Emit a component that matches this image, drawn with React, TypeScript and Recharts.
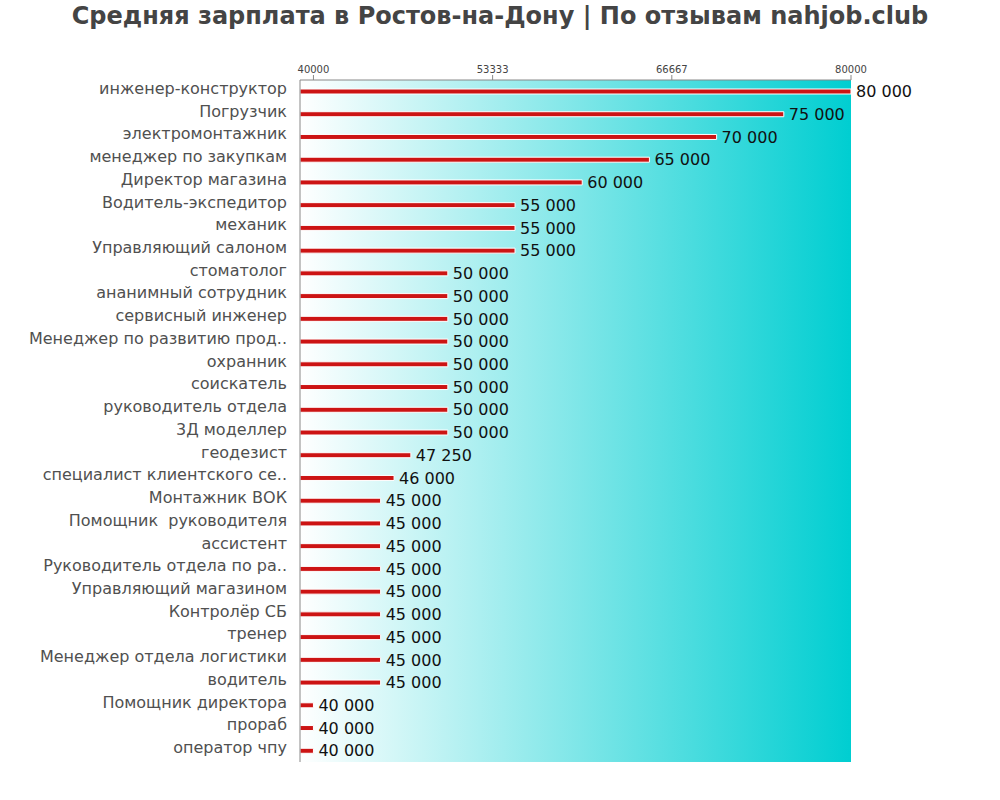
import React from 'react';
import { BarChart, Bar, XAxis, YAxis, CartesianGrid, LabelList } from 'recharts';

const jobs = [
  'инженер-конструктор',
  'Погрузчик',
  'электромонтажник',
  'менеджер по закупкам',
  'Директор магазина',
  'Водитель-экспедитор',
  'механик',
  'Управляющий салоном',
  'стоматолог',
  'ананимный сотрудник',
  'сервисный инженер',
  'Менеджер по развитию прод..',
  'охранник',
  'соискатель',
  'руководитель отдела',
  '3Д моделлер',
  'геодезист',
  'специалист клиентского се..',
  'Монтажник ВОК',
  'Помощник  руководителя',
  'ассистент',
  'Руководитель отдела по ра..',
  'Управляющий магазином',
  'Контролёр СБ',
  'тренер',
  'Менеджер отдела логистики',
  'водитель',
  'Помощник директора',
  'прораб',
  'оператор чпу',
];

const salaries = [
  80000, 75000, 70000, 65000, 60000, 55000, 55000, 55000, 50000, 50000,
  50000, 50000, 50000, 50000, 50000, 50000, 47250, 46000, 45000, 45000,
  45000, 45000, 45000, 45000, 45000, 45000, 45000, 40000, 40000, 40000,
];

const xTicks = [40000, 53333, 66667, 80000];

const data = jobs.map((name, i) => ({ name, salary: salaries[i] }));

const FONT = '"DejaVu Sans", Verdana, sans-serif';

function formatSalary(v: number): string {
  return String(v).replace(/\B(?=(\d{3})+(?!\d))/g, ' ');
}

function JobTick(props: any) {
  const { x, y, payload } = props;
  return (
    <text
      x={x}
      y={y + 2.5}
      textAnchor="end"
      fontSize={16}
      fill="#505050"
      fontFamily={FONT}
      style={{ whiteSpace: 'pre' }}
    >
      {payload.value}
    </text>
  );
}

export default function App() {
  return (
    <div style={{ position: 'absolute', left: 0, top: 0, width: 1000, height: 800, background: '#fff' }}>
      <div
        style={{
          position: 'absolute',
          left: 0,
          top: 0,
          width: 1000,
          textAlign: 'center',
          fontFamily: FONT,
          fontWeight: 'bold',
          fontSize: 24,
          lineHeight: '32px',
          color: '#444',
        }}
      >
        Средняя зарплата в Ростов-на-Дону | По отзывам nahjob.club
      </div>
      <BarChart
        width={1000}
        height={800}
        data={data}
        layout="vertical"
        margin={{ top: 50, right: 149, left: 0, bottom: 38 }}
      >
        <defs>
          <linearGradient id="bg" x1="0" y1="0" x2="1" y2="0">
            <stop offset="0%" stopColor="#ffffff" />
            <stop offset="100%" stopColor="#00ced1" />
          </linearGradient>
        </defs>
        <CartesianGrid horizontal={false} vertical={false} fill="url(#bg)" stroke="none" />
        <XAxis
          type="number"
          orientation="top"
          domain={[39000, 80000]}
          ticks={xTicks}
          allowDataOverflow
          height={30}
          tickSize={5}
          tick={{ fontSize: 10, fill: '#444', fontFamily: FONT }}
          axisLine={{ stroke: '#888' }}
          tickLine={{ stroke: '#888' }}
        />
        <YAxis
          type="category"
          dataKey="name"
          width={300}
          interval={0}
          tick={<JobTick />}
          tickLine={false}
          tickMargin={7}
          axisLine={{ stroke: '#888' }}
        />
        <Bar
          dataKey="salary"
          fill="#cc1414"
          stroke="#ffffff"
          strokeWidth={1}
          barSize={5}
          isAnimationActive={false}
        >
          <LabelList
            dataKey="salary"
            position="right"
            offset={5}
            formatter={(v: any) => formatSalary(Number(v))}
            style={{ fontSize: 16, fill: '#111', fontFamily: FONT }}
          />
        </Bar>
      </BarChart>
    </div>
  );
}
